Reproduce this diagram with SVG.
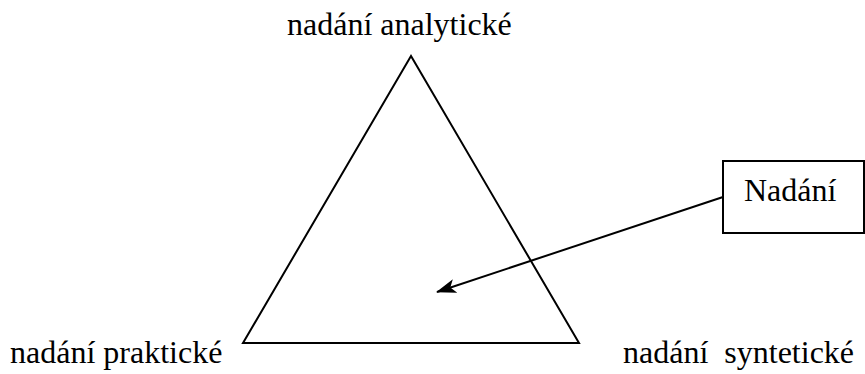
<svg xmlns="http://www.w3.org/2000/svg" width="865" height="374" viewBox="0 0 865 374">
<style>
text{font-family:'Liberation Serif','Times New Roman',serif;font-size:32px;fill:#000}
.s{fill:none;stroke:#000;stroke-width:2}
</style>
<defs>
<marker id="ah" markerWidth="20" markerHeight="14" refX="19" refY="7" orient="auto" markerUnits="userSpaceOnUse">
<path d="M0,0 L20,7 L0,14 L5,7 Z" fill="#000"/>
</marker>
</defs>
<rect width="865" height="374" fill="#fff"/>
<g id="triangle">
<polygon class="s" points="411,56 243,343 579,343"/>
</g>
<g id="label-analytic"><text x="287" y="35">nadání analytické</text></g>
<g id="label-practical"><text x="10" y="363">nadání praktické</text></g>
<g id="label-synthetic"><text x="623" y="363" xml:space="preserve">nadání  syntetické</text></g>
<g id="box">
<rect class="s" x="723" y="161" width="141" height="72"/>
<text x="744" y="201">Nadání</text>
</g>
<g id="connectors">
<line class="s" x1="723" y1="197" x2="437" y2="292" marker-end="url(#ah)"/>
</g>
</svg>
